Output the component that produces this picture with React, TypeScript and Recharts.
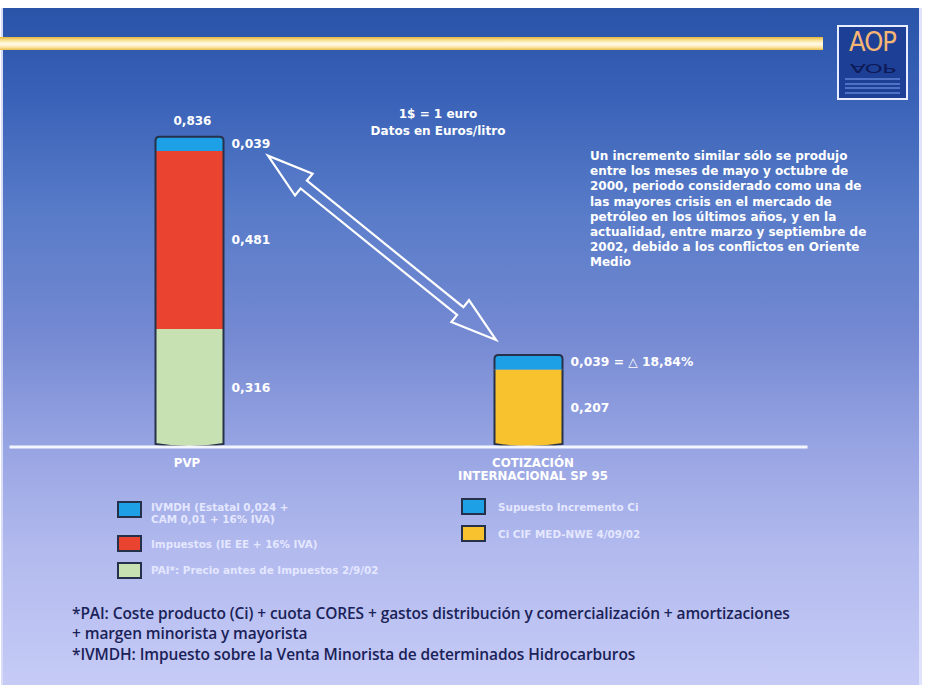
import React from 'react';
import { BarChart, Bar, XAxis, YAxis, ReferenceLine, LabelList, Cell } from 'recharts';

// ---------- data ----------
const categories = ['PVP', 'COTIZACIÓN\nINTERNACIONAL SP 95'];
const baseValues = [0.316, 0.207]; // PAI / Ci CIF MED-NWE
const taxValues = [0.481, 0]; // Impuestos
const topValues = [0.039, 0.039]; // IVMDH / Supuesto incremento Ci
const baseColors = ['#c7e1b3', '#f8c12e'];
const baseLabels = ['0,316', '0,207'];
const taxLabels = ['0,481', ''];
const topLabels = ['0,039', '0,039 = △ 18,84%'];
const totalLabels = ['0,836', ''];

const legendLeft = [
  { color: '#1ea0e6', lines: ['IVMDH (Estatal 0,024 +', 'CAM 0,01 + 16% IVA)'] },
  { color: '#ea4330', lines: ['Impuestos (IE EE + 16% IVA)'] },
  { color: '#c7e1b3', lines: ['PAI*: Precio antes de Impuestos 2/9/02'] },
];
const legendRight = [
  { color: '#1ea0e6', lines: ['Supuesto Incremento Ci'] },
  { color: '#f8c12e', lines: ['Ci CIF MED-NWE 4/09/02'] },
];
const noteLines = ['1$ = 1 euro', 'Datos en Euros/litro'];
const paragraph = [
  'Un incremento similar sólo se produjo',
  'entre los meses de mayo y octubre de',
  '2000, periodo considerado como una de',
  'las mayores crisis en el mercado de',
  'petróleo en los últimos años, y en la',
  'actualidad, entre marzo y septiembre de',
  '2002, debido a los conflictos en Oriente',
  'Medio',
];
const footnotes = [
  '*PAI: Coste producto (Ci) + cuota CORES + gastos distribución y comercialización + amortizaciones',
  '+ margen minorista y mayorista',
  '*IVMDH: Impuesto sobre la Venta Minorista de determinados Hidrocarburos',
];

const data = categories.map((cat, i) => ({
  cat,
  base: baseValues[i],
  tax: taxValues[i],
  top: topValues[i],
  baseLabel: baseLabels[i],
  taxLabel: taxLabels[i],
  topLabel: topLabels[i],
  totalLabel: totalLabels[i],
}));
const cotTotal = baseValues[1] + taxValues[1] + topValues[1];
const pvpTotal = baseValues[0] + taxValues[0] + topValues[0];

// ---------- styles ----------
const LABEL_FONT = '"DejaVu Sans", "Liberation Sans", Arial, sans-serif';
const OUTLINE = '#27314a';

const Segment = (props: any) => {
  const { x, y, width, height, fill, kind } = props;
  if (!height || height <= 0.5) return null;
  const xl = x, xr = x + width, yt = y, yb = y + height, xm = x + width / 2;
  const r = 4;
  let fillD = '';
  let lineD = '';
  if (kind === 'top') {
    fillD = `M${xl},${yb} L${xl},${yt + r} Q${xl},${yt} ${xl + r},${yt} L${xr - r},${yt} Q${xr},${yt} ${xr},${yt + r} L${xr},${yb} Z`;
    lineD = `M${xl},${yb} L${xl},${yt + r} Q${xl},${yt} ${xl + r},${yt} L${xr - r},${yt} Q${xr},${yt} ${xr},${yt + r} L${xr},${yb}`;
  } else if (kind === 'bottom') {
    fillD = `M${xl},${yt} L${xr},${yt} L${xr},${yb - 2} Q${xm},${yb + 4} ${xl},${yb - 2} Z`;
    lineD = `M${xl},${yt} L${xl},${yb - 2} Q${xm},${yb + 4} ${xr},${yb - 2} L${xr},${yt}`;
  } else {
    fillD = `M${xl},${yt} L${xr},${yt} L${xr},${yb} L${xl},${yb} Z`;
    lineD = `M${xl},${yt} L${xl},${yb} M${xr},${yt} L${xr},${yb}`;
  }
  return (
    <g>
      <path d={fillD} fill={fill} stroke="none" />
      <path d={lineD} fill="none" stroke={OUTLINE} strokeWidth={2} />
    </g>
  );
};

const SideLabel = (props: any) => {
  const { x, y, width, height, value } = props;
  if (!value) return null;
  return (
    <text
      x={Number(x) + Number(width) + 8}
      y={Number(y) + Number(height) / 2}
      fill="#ffffff"
      fontSize={12.3}
      fontWeight="bold"
      fontFamily={LABEL_FONT}
      dominantBaseline="central"
    >
      {value}
    </text>
  );
};

const TotalLabel = (props: any) => {
  const { x, y, width, value } = props;
  if (!value) return null;
  return (
    <text
      x={Number(x) + Number(width) / 2 + 3}
      y={Number(y) - 16}
      fill="#ffffff"
      fontSize={12}
      fontWeight="bold"
      fontFamily={LABEL_FONT}
      textAnchor="middle"
      dominantBaseline="central"
    >
      {value}
    </text>
  );
};

const CatTick = (props: any) => {
  const { x, y, payload } = props;
  const lines = String(payload.value).split('\n');
  return (
    <g>
      {lines.map((l, i) => (
        <text
          key={i}
          x={x + (lines.length > 1 ? 5 : -2)}
          y={y + 9 + i * 13}
          fill="#ffffff"
          fontSize={11.8}
          fontWeight="bold"
          fontFamily={LABEL_FONT}
          textAnchor="middle"
          dominantBaseline="central"
        >
          {l}
        </text>
      ))}
    </g>
  );
};

const ARROW_START_OFFSET = [79, 19];
const ARROW_END_OFFSET = [-32, -15];

const ArrowShape = (props: any) => {
  const { x1, y1, x2, y2 } = props;
  if ([x1, y1, x2, y2].some((v) => typeof v !== 'number' || isNaN(v))) return null;
  const ax = x1 + ARROW_START_OFFSET[0], ay = y1 + ARROW_START_OFFSET[1];
  const bx = x2 + ARROW_END_OFFSET[0], by = y2 + ARROW_END_OFFSET[1];
  const dx = bx - ax, dy = by - ay;
  const len = Math.sqrt(dx * dx + dy * dy);
  const ux = dx / len, uy = dy / len;
  const nx = -uy, ny = ux;
  const H = 46, hw = 14, sw = 5;
  const p = (px: number, py: number) => `${px.toFixed(1)},${py.toFixed(1)}`;
  const pts = [
    p(ax, ay),
    p(ax + ux * H + nx * hw, ay + uy * H + ny * hw),
    p(ax + ux * H + nx * sw, ay + uy * H + ny * sw),
    p(bx - ux * H + nx * sw, by - uy * H + ny * sw),
    p(bx - ux * H + nx * hw, by - uy * H + ny * hw),
    p(bx, by),
    p(bx - ux * H - nx * hw, by - uy * H - ny * hw),
    p(bx - ux * H - nx * sw, by - uy * H - ny * sw),
    p(ax + ux * H - nx * sw, ay + uy * H - ny * sw),
    p(ax + ux * H - nx * hw, ay + uy * H - ny * hw),
  ].join(' ');
  return <polygon points={pts} fill="rgba(120,150,220,0.15)" stroke="#ffffff" strokeWidth={2.2} strokeLinejoin="miter" />;
};

const BaselineShape = (props: any) => {
  const { x1, y1, x2 } = props;
  if (typeof x1 !== 'number') return null;
  return <line x1={x1 - 10} y1={y1 + 1} x2={x2 + 110} y2={y1 + 1} stroke="#f4f6ff" strokeWidth={3} />;
};

const Swatch = ({ color, top, left }: { color: string; top: number; left: number }) => (
  <div
    style={{
      position: 'absolute',
      left,
      top,
      width: 21,
      height: 13,
      background: color,
      border: '2px solid #25304a',
    }}
  />
);

export default function App() {
  const legendText: React.CSSProperties = {
    position: 'absolute',
    color: '#e4e7ff',
    fontFamily: LABEL_FONT,
    fontWeight: 'bold',
    fontSize: 10.4,
    lineHeight: '12px',
    whiteSpace: 'nowrap',
  };
  const footStyle: React.CSSProperties = {
    position: 'absolute',
    left: 72,
    color: '#1a2258',
    fontFamily: '"Open Sans", "Noto Sans", sans-serif',
    fontSize: 15.5,
    fontWeight: 600,
    lineHeight: '19px',
    whiteSpace: 'nowrap',
    letterSpacing: -0.1,
  };
  const logoFont = '"Liberation Sans Narrow", "DejaVu Sans Condensed", sans-serif';
  return (
    <div
      style={{
        position: 'absolute',
        left: 0,
        top: 0,
        width: 932,
        height: 688,
        background: '#ffffff',
        overflow: 'hidden',
      }}
    >
      {/* panel */}
      <div
        style={{
          position: 'absolute',
          left: 1,
          top: 8,
          width: 921,
          height: 677,
          background:
            'linear-gradient(180deg, #2a54a8 0%, #3760b6 12%, #587bc8 30%, #7489d2 48%, #96a3e2 64%, #b2baee 80%, #c6cbf6 100%)',
          borderRight: '3px solid #dfe3fb',
          borderLeft: '2px solid #d8dcf6',
          boxSizing: 'border-box',
        }}
      />
      {/* header stripe */}
      <div
        style={{
          position: 'absolute',
          left: 0,
          top: 37,
          width: 823,
          height: 13,
          background: 'linear-gradient(180deg, #e9b83a 0%, #fbe9a8 30%, #fffbea 55%, #fbe3a0 80%, #e8bc48 100%)',
        }}
      />
      {/* logo */}
      <div
        style={{
          position: 'absolute',
          left: 837,
          top: 25,
          width: 71,
          height: 75,
          boxSizing: 'border-box',
          border: '2px solid #e8eeff',
          background: '#1d3f96',
        }}
      >
        <div
          style={{
            position: 'absolute',
            left: 0,
            top: 0,
            width: 67,
            height: 30,
            textAlign: 'center',
            fontFamily: logoFont,
            fontSize: 27,
            lineHeight: '30px',
            color: '#f5b674',
            letterSpacing: -1,
          }}
        >
          AOP
        </div>
        <div
          style={{
            position: 'absolute',
            left: 0,
            top: 34,
            width: 67,
            height: 14,
            textAlign: 'center',
            fontFamily: logoFont,
            fontSize: 13,
            lineHeight: '14px',
            color: '#0d1a55',
            letterSpacing: -0.5,
            transform: 'scale(2, -0.95)',
          }}
        >
          AOP
        </div>
        {[51, 55.5, 60, 64.5].map((t) => (
          <div
            key={t}
            style={{ position: 'absolute', left: 6, top: t, width: 55, height: 2, background: '#5d7fd0', opacity: 0.8 }}
          />
        ))}
      </div>

      {/* note */}
      <div
        style={{
          position: 'absolute',
          left: 338,
          top: 106,
          width: 200,
          textAlign: 'center',
          color: '#ffffff',
          fontFamily: LABEL_FONT,
          fontWeight: 'bold',
          fontSize: 12,
          lineHeight: '17px',
        }}
      >
        {noteLines.map((l) => (
          <div key={l}>{l}</div>
        ))}
      </div>

      {/* paragraph */}
      <div
        style={{
          position: 'absolute',
          left: 590,
          top: 149,
          color: '#ffffff',
          fontFamily: LABEL_FONT,
          fontWeight: 'bold',
          fontSize: 12,
          lineHeight: '15.2px',
          whiteSpace: 'nowrap',
        }}
      >
        {paragraph.map((l) => (
          <div key={l}>{l}</div>
        ))}
      </div>

      {/* chart */}
      <div style={{ position: 'absolute', left: 0, top: 0 }}>
        <BarChart
          width={932}
          height={688}
          data={data}
          margin={{ top: 113, right: 234.5, bottom: 212, left: 19.5 }}
          barSize={68}
        >
          <XAxis
            dataKey="cat"
            axisLine={false}
            tickLine={false}
            tick={<CatTick />}
            interval={0}
            height={30}
          />
          <YAxis hide domain={[0, 0.9]} type="number" />
          <ReferenceLine y={0} shape={<BaselineShape />} ifOverflow="visible" />
          <Bar dataKey="base" stackId="s" isAnimationActive={false} shape={<Segment kind="bottom" />}>
            {data.map((d, i) => (
              <Cell key={i} fill={baseColors[i]} />
            ))}
            <LabelList dataKey="baseLabel" content={<SideLabel />} />
          </Bar>
          <Bar dataKey="tax" stackId="s" fill="#ea4330" isAnimationActive={false} shape={<Segment kind="mid" />}>
            <LabelList dataKey="taxLabel" content={<SideLabel />} />
          </Bar>
          <Bar dataKey="top" stackId="s" fill="#1ea0e6" isAnimationActive={false} shape={<Segment kind="top" />}>
            <LabelList dataKey="topLabel" content={<SideLabel />} />
            <LabelList dataKey="totalLabel" content={<TotalLabel />} />
          </Bar>
          <ReferenceLine
            segment={[
              { x: categories[0], y: pvpTotal },
              { x: categories[1], y: cotTotal },
            ]}
            shape={<ArrowShape />}
            ifOverflow="visible"
          />
        </BarChart>
      </div>

      {/* legends */}
      <Swatch color={legendLeft[0].color} left={117} top={501} />
      <Swatch color={legendLeft[1].color} left={117} top={535} />
      <Swatch color={legendLeft[2].color} left={117} top={562} />
      <div style={{ ...legendText, left: 151, top: 501 }}>
        {legendLeft[0].lines.map((l) => (
          <div key={l}>{l}</div>
        ))}
      </div>
      <div style={{ ...legendText, left: 151, top: 538 }}>{legendLeft[1].lines[0]}</div>
      <div style={{ ...legendText, left: 151, top: 564 }}>{legendLeft[2].lines[0]}</div>

      <Swatch color={legendRight[0].color} left={461} top={498} />
      <Swatch color={legendRight[1].color} left={461} top={525} />
      <div style={{ ...legendText, left: 498, top: 501 }}>{legendRight[0].lines[0]}</div>
      <div style={{ ...legendText, left: 498, top: 528 }}>{legendRight[1].lines[0]}</div>

      {/* footnotes */}
      <div style={{ ...footStyle, top: 604 }}>{footnotes[0]}</div>
      <div style={{ ...footStyle, top: 624 }}>{footnotes[1]}</div>
      <div style={{ ...footStyle, top: 645 }}>{footnotes[2]}</div>
    </div>
  );
}
